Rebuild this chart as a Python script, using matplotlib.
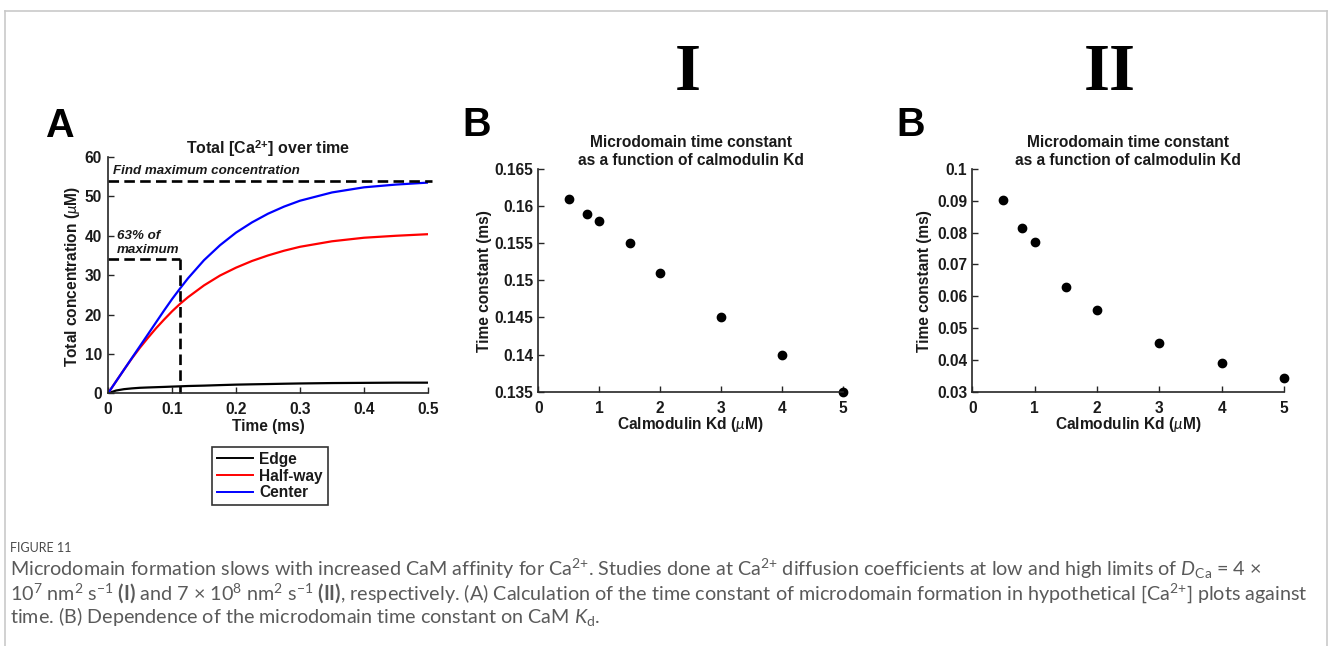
import matplotlib
matplotlib.use("Agg")
import matplotlib.pyplot as plt
from matplotlib.lines import Line2D
from matplotlib.ticker import FixedLocator, FuncFormatter

# ---------------- data ----------------
time_ms = [0, 0.0125, 0.025, 0.0375, 0.05, 0.0625, 0.075, 0.0875, 0.1, 0.1125,
           0.125, 0.15, 0.175, 0.2, 0.225, 0.25, 0.275, 0.3, 0.35, 0.4, 0.45, 0.5]
edge = [0, 0.7, 1.05, 1.25, 1.4, 1.48, 1.55, 1.62, 1.7, 1.77,
        1.85, 1.95, 2.08, 2.2, 2.28, 2.35, 2.43, 2.5, 2.6, 2.65, 2.7, 2.7]
halfway = [0, 3.0, 6.0, 8.9, 11.6, 14.1, 16.5, 18.7, 20.8, 22.7,
           24.4, 27.4, 29.9, 31.9, 33.6, 35.0, 36.2, 37.2, 38.6, 39.5, 40.0, 40.4]
center = [0, 3.0, 6.0, 9.0, 12.0, 15.0, 18.0, 21.0, 23.9, 26.6,
          29.2, 33.8, 37.6, 40.8, 43.4, 45.6, 47.4, 48.9, 51.0, 52.3, 53.0, 53.5]
max_conc = 54.0
tau_ms = 0.1125
frac = 0.63

kd = [0.5, 0.8, 1, 1.5, 2, 3, 4, 5]
tc_I = [0.161, 0.159, 0.158, 0.155, 0.151, 0.145, 0.140, 0.135]
tc_II = [0.0903, 0.0813, 0.0772, 0.0629, 0.0556, 0.0452, 0.0389, 0.0344]

A_xticks = [0, 0.1, 0.2, 0.3, 0.4, 0.5]
A_yticks = [0, 10, 20, 30, 40, 50, 60]
B_xticks = [0, 1, 2, 3, 4, 5]
BI_yticks = [0.135, 0.14, 0.145, 0.15, 0.155, 0.16, 0.165]
BII_yticks = [0.03, 0.04, 0.05, 0.06, 0.07, 0.08, 0.09, 0.1]

# ---------------- style ----------------
plt.rcParams['font.family'] = ['Liberation Sans', 'DejaVu Sans']
plt.rcParams['font.weight'] = 'bold'
plt.rcParams['mathtext.fontset'] = 'custom'
plt.rcParams['mathtext.rm'] = 'Lato:weight=normal'
plt.rcParams['mathtext.it'] = 'Lato:style=italic:weight=normal'
plt.rcParams['mathtext.bf'] = 'Liberation Sans:weight=bold'
plt.rcParams['mathtext.sf'] = 'Lato:weight=bold'

W, H = 1328, 646
fig = plt.figure(figsize=(W / 100, H / 100), dpi=100)
fig.patch.set_facecolor('white')


def rect(l, r, t, b):
    return [l / W, 1 - b / H, (r - l) / W, (b - t) / H]


def fx(x):
    return x / W


def fy(y):
    return 1 - y / H


fmt = FuncFormatter(lambda v, p: '%g' % round(v, 6))
TS = 11.2
DK = '#1a1a1a'


def style(ax, xt, yt, xpad, ypad):
    for s in ['top', 'right']:
        ax.spines[s].set_visible(False)
    for s in ['left', 'bottom']:
        ax.spines[s].set_linewidth(1.2)
        ax.spines[s].set_color('#262626')
    ax.xaxis.set_major_locator(FixedLocator(xt))
    ax.yaxis.set_major_locator(FixedLocator(yt))
    ax.xaxis.set_major_formatter(fmt)
    ax.yaxis.set_major_formatter(fmt)
    ax.tick_params(axis='both', direction='in', length=4, width=1.0,
                   labelsize=TS, colors='#262626', labelcolor=DK)
    ax.tick_params(axis='x', pad=xpad)
    ax.tick_params(axis='y', pad=ypad)
    for lb in ax.get_xticklabels() + ax.get_yticklabels():
        lb.set_fontweight('bold')
    ax.set_facecolor('none')


# ---------------- panel A ----------------
axA = fig.add_axes(rect(108, 428, 157, 393.3))
axA.plot(time_ms, edge, color='black', lw=1.6, label='Edge')
axA.plot(time_ms, halfway, color='#ff0000', lw=1.6, label='Half-way')
axA.plot(time_ms, center, color='#0000ff', lw=1.6, label='Center')
dash = (0, (4, 2))
axA.plot([0, 0.507], [max_conc, max_conc], color='black', lw=1.9, ls=dash, clip_on=False)
axA.plot([0, tau_ms], [frac * max_conc, frac * max_conc], color='black', lw=1.9, ls=dash, clip_on=False)
axA.plot([tau_ms, tau_ms], [frac * max_conc, 0], color='black', lw=1.9, ls=dash, clip_on=False)
axA.set_xlim(0, 0.5)
axA.set_ylim(0, 60)
style(axA, A_xticks, A_yticks, 6, 4.5)
axA.text(0.008, 55.6, 'Find maximum concentration', fontsize=9.6, fontweight='bold',
         style='italic', ha='left', va='baseline', color=DK)
axA.text(0.0136, 39.3, '63% of', fontsize=9.6, fontweight='bold',
         style='italic', ha='left', va='baseline', color=DK)
axA.text(0.0136, 35.5, 'maximum', fontsize=9.6, fontweight='bold',
         style='italic', ha='left', va='baseline', color=DK)

leg = axA.legend(loc='upper left', bbox_to_anchor=(fx(212), fy(447)),
                 bbox_transform=fig.transFigure, borderaxespad=0,
                 fancybox=False, frameon=True,
                 prop={'weight': 'bold', 'size': TS},
                 handlelength=2.35, handletextpad=0.4, labelspacing=0.12,
                 borderpad=0.3)
leg.get_frame().set_edgecolor('black')
leg.get_frame().set_linewidth(1.2)
for l in leg.get_lines():
    l.set_linewidth(1.4)
for t in leg.get_texts():
    t.set_color(DK)

fig.text(fx(268), fy(154), r'Total [Ca$^{\mathbf{2{+}}}$] over time', fontsize=11.5,
         fontweight='bold', ha='center', va='baseline', color=DK)
fig.text(fx(268), fy(427), 'Time (ms)', fontsize=TS, fontweight='bold', ha='center',
         va='center', color=DK)
fig.text(fx(73), fy(276), r'Total concentration ($\mu$M)', fontsize=TS, fontweight='bold',
         ha='center', va='center', rotation=90, color=DK)
fig.text(fx(45), fy(136.7), 'A', fontsize=28.5, fontweight='bold', ha='left', va='baseline')

# ---------------- panels B (I and II) ----------------
for (l, r, yt, ylim, vals, cx, ylx, letx) in [
        (538.3, 842.7, BI_yticks, (0.135, 0.165), tc_I, 690.5, 485, 462),
        (972.3, 1284, BII_yticks, (0.03, 0.1), tc_II, 1128, 925, 896)]:
    ax = fig.add_axes(rect(l, r, 169, 391.7))
    ax.plot(kd, vals, 'o', color='black', ms=6.0, clip_on=False)
    ax.set_xlim(0, 5)
    ax.set_ylim(*ylim)
    style(ax, B_xticks, yt, 7, 3.6)
    fig.text(fx(cx), fy(147.3), 'Microdomain time constant', fontsize=TS,
             fontweight='bold', ha='center', va='baseline', color=DK)
    fig.text(fx(cx), fy(164.5), 'as a function of calmodulin Kd', fontsize=TS,
             fontweight='bold', ha='center', va='baseline', color=DK)
    fig.text(fx(cx), fy(425), r'Calmodulin Kd ($\mu$M)', fontsize=TS,
             fontweight='bold', ha='center', va='center', color=DK)
    fig.text(fx(ylx), fy(281), 'Time constant (ms)', fontsize=TS, fontweight='bold',
             ha='center', va='center', rotation=90, color=DK)
    fig.text(fx(letx), fy(135.5), 'B', fontsize=28.5, fontweight='bold',
             ha='left', va='baseline')

# Roman numerals
fig.text(fx(688), fy(90), 'I', fontsize=48, fontweight='bold',
         family=['Liberation Serif', 'DejaVu Serif'], ha='center', va='baseline')
fig.text(fx(1110), fy(90), 'II', fontsize=48, fontweight='bold',
         family=['Liberation Serif', 'DejaVu Serif'], ha='center', va='baseline')

# ---------------- frame ----------------
fc = '#c9c9c9'
fig.add_artist(Line2D([fx(4.5), fx(1327)], [fy(11), fy(11)], color=fc, lw=1.2))
fig.add_artist(Line2D([fx(4.5), fx(4.5)], [fy(11), fy(646)], color=fc, lw=1.2))
fig.add_artist(Line2D([fx(1327), fx(1327)], [fy(11), fy(646)], color=fc, lw=1.2))

# ---------------- caption ----------------
cap_font = ['Lato', 'DejaVu Sans']
cc = '#5a5a5a'
fig.text(fx(10), fy(552), 'FIGURE 11', fontsize=9, fontweight='normal',
         family=cap_font, color='#4a4a4a', ha='left', va='baseline')
line1 = (r"Microdomain formation slows with increased CaM affinity for Ca$^{2{+}}$. "
         r"Studies done at Ca$^{2{+}}$ diffusion coefficients at low and high limits of "
         r"$D_{\mathrm{Ca}}$ = 4 ×")
line2 = (r"10$^{7}$ nm$^{2}$ s$^{-1}$ $\mathsf{(I)}$ and 7 × 10$^{8}$ nm$^{2}$ s$^{-1}$ "
         r"$\mathsf{(II)}$, respectively. (A) Calculation of the time constant of microdomain "
         r"formation in hypothetical [Ca$^{2{+}}$] plots against")
line3 = r"time. (B) Dependence of the microdomain time constant on CaM $K_{\mathrm{d}}$."
caps = []
for txt, yb in [(line1, 576), (line2, 599.5), (line3, 623)]:
    caps.append(fig.text(fx(10), fy(yb), txt, fontsize=12, fontweight='normal',
                         family=cap_font, color=cc, ha='left', va='baseline'))
fig.canvas.draw()
bb = caps[1].get_window_extent()
scale = 1298.0 / bb.width
for c in caps:
    c.set_fontsize(12 * scale)

fig.savefig('out.png', dpi=100, facecolor='white')
